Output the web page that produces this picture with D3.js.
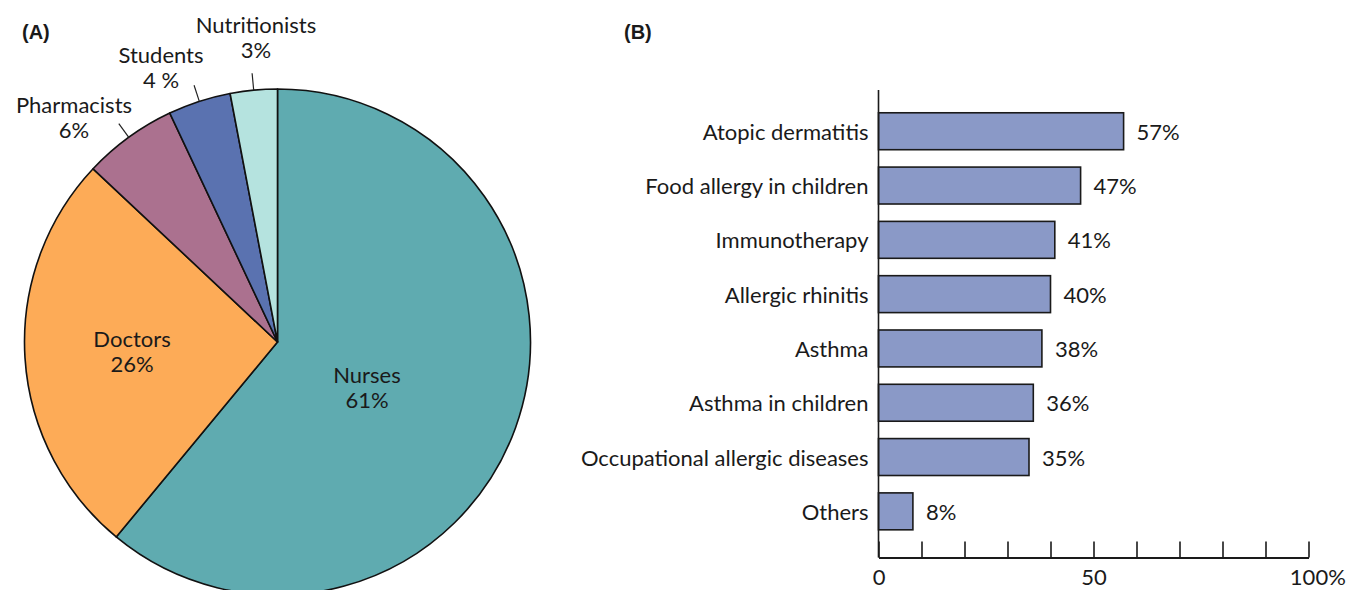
<!DOCTYPE html>
<html><head><meta charset="utf-8">
<script src="https://cdn.jsdelivr.net/npm/d3@7"></script>
<style>
body{margin:0;background:#fff;}
svg{display:block;}
text{font-family:Lato,"Noto Sans",sans-serif;fill:#1a1a1a;}
</style></head>
<body>
<svg id="c" width="1348" height="590"></svg>
<script>
// ---- data ----
const pieLabels = ["Nurses","Doctors","Pharmacists","Students","Nutritionists"];
const pieValues = [61, 26, 6, 4, 3];
const pieValueText = ["61%","26%","6%","4 %","3%"];
const pieColors = ["#5fabb0","#fdab57","#ab718f","#5a72b0","#b5e3df"];

const barCategories = ["Atopic dermatitis","Food allergy in children","Immunotherapy","Allergic rhinitis","Asthma","Asthma in children","Occupational allergic diseases","Others"];
const barValues = [57, 47, 41, 40, 38, 36, 35, 8];
const xTickValues = [0,10,20,30,40,50,60,70,80,90,100];
const xTickLabels = {0:"0",50:"50",100:"100"};

const FS = 22;
const svg = d3.select("#c");

// panel letters
svg.append("text").attr("x",22).attr("y",39).text("(A)")
  .style("font-family","Liberation Sans, Arial, sans-serif").style("font-weight","bold").style("font-size","20px");
svg.append("text").attr("x",624).attr("y",39).text("(B)")
  .style("font-family","Liberation Sans, Arial, sans-serif").style("font-weight","bold").style("font-size","20px");

// ---- pie ----
const cx = 277.5, cy = 342, R = 253;
const pie = d3.pie().sort(null).value(d=>d)(pieValues);
const arc = d3.arc().innerRadius(0).outerRadius(R);
const g = svg.append("g").attr("transform",`translate(${cx},${cy})`);
g.selectAll("path").data(pie).join("path")
  .attr("d",arc).attr("fill",(d,i)=>pieColors[i])
  .attr("stroke","#111").attr("stroke-width",1.6).attr("stroke-linejoin","round");

// label layout (baseline positions relative to pie center)
const labelPos = [
  {x:89.5, y:41, inside:true},
  {x:-145.5, y:5, inside:true},
  {x:-203.5, y:-229, inside:false},
  {x:-116.5, y:-279, inside:false},
  {x:-21.5, y:-309, inside:false}
];
pie.forEach((d,i)=>{
  const lp = labelPos[i];
  const t = g.append("text").attr("text-anchor","middle").style("font-size",FS+"px");
  t.append("tspan").attr("x",lp.x).attr("y",lp.y).text(pieLabels[i]);
  t.append("tspan").attr("x",lp.x).attr("y",lp.y+25).text(pieValueText[i]);
  if(!lp.inside){
    const a = (d.startAngle+d.endAngle)/2;
    const r1 = R, r2 = R+17;
    g.append("line")
      .attr("x1",Math.sin(a)*r1).attr("y1",-Math.cos(a)*r1)
      .attr("x2",Math.sin(a)*r2).attr("y2",-Math.cos(a)*r2)
      .attr("stroke","#222").attr("stroke-width",1.2);
  }
});

// ---- bar chart ----
const x = d3.scaleLinear().domain([0,100]).range([878.5,1308.5]);
const y = d3.scaleBand().domain(barCategories).range([104.1,538.5]).paddingInner(0.32).paddingOuter(0.16);
const axisY = 557.5;

svg.selectAll("rect.bar").data(barValues).join("rect")
  .attr("class","bar")
  .attr("x",x(0)).attr("y",(d,i)=>y(barCategories[i]))
  .attr("width",d=>x(d)-x(0)).attr("height",y.bandwidth())
  .attr("fill","#8a99c7").attr("stroke","#1a1a1a").attr("stroke-width",1.6);

svg.selectAll("text.val").data(barValues).join("text")
  .attr("class","val")
  .attr("x",d=>x(d)+13).attr("y",(d,i)=>y(barCategories[i])+y.bandwidth()/2+8.5)
  .style("font-size",FS+"px").text(d=>d+"%");

svg.selectAll("text.cat").data(barCategories).join("text")
  .attr("class","cat")
  .attr("x",x(0)-10).attr("y",d=>y(d)+y.bandwidth()/2+8.5)
  .attr("text-anchor","end").style("font-size",FS+"px").text(d=>d);

// vertical axis line
svg.append("line").attr("x1",x(0)).attr("x2",x(0)).attr("y1",90).attr("y2",axisY)
  .attr("stroke","#1a1a1a").attr("stroke-width",1.6);

const xAxis = d3.axisBottom(x).tickValues(xTickValues)
  .tickFormat(d=>xTickLabels[d]||"").tickSizeInner(-16).tickSizeOuter(0).tickPadding(12);
const ax = svg.append("g").attr("transform",`translate(0,${axisY})`).call(xAxis);
ax.select(".domain").attr("stroke","#1a1a1a").attr("stroke-width",2.2);
ax.selectAll(".tick line").attr("stroke","#1a1a1a").attr("stroke-width",1.6);
ax.selectAll(".tick text").style("font-family","Lato, 'Noto Sans', sans-serif").style("font-size",FS+"px").attr("fill","#1a1a1a");
// percent sign after the last tick label
ax.selectAll(".tick").filter(d=>d===100).each(function(){
  const t = d3.select(this).select("text");
  const w = t.node().getComputedTextLength();
  d3.select(this).append("text").attr("x",w/2).attr("y",12).attr("dy","0.71em")
    .attr("fill","#1a1a1a").attr("text-anchor","start")
    .style("font-family","Lato, 'Noto Sans', sans-serif").style("font-size",FS+"px").text("%");
});
</script>
</body></html>
